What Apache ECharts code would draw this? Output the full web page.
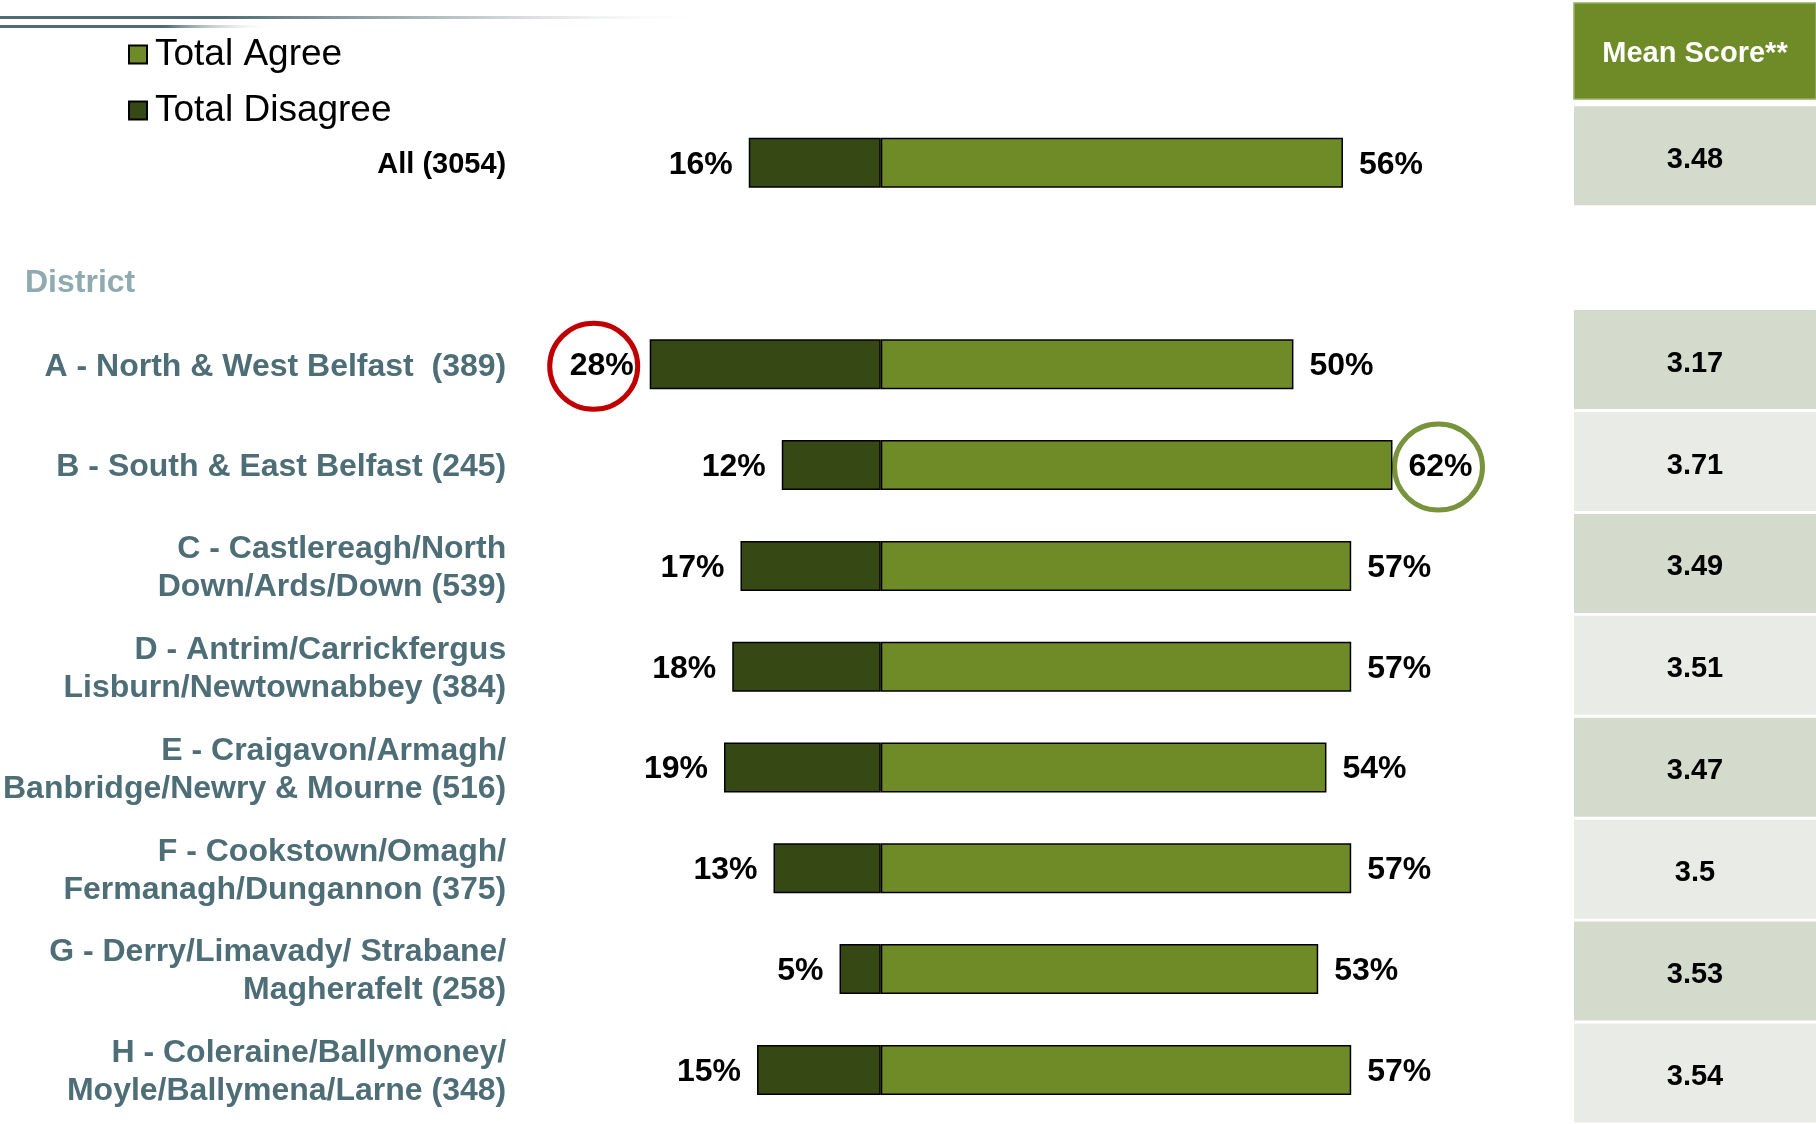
<!DOCTYPE html>
<html><head><meta charset="utf-8">
<script src="https://cdn.jsdelivr.net/npm/echarts@6/dist/echarts.min.js"></script>
<style>html,body{margin:0;padding:0;background:#fff}#c{width:1816px;height:1124px}</style>
</head><body><div id="c"></div>
<script>
// ---- data ----
const categories = [
  'All (3054)',
  '',
  'A - North & West Belfast  (389)',
  'B - South & East Belfast (245)',
  'C - Castlereagh/North\nDown/Ards/Down (539)',
  'D - Antrim/Carrickfergus\nLisburn/Newtownabbey (384)',
  'E - Craigavon/Armagh/\nBanbridge/Newry & Mourne (516)',
  'F - Cookstown/Omagh/\nFermanagh/Dungannon (375)',
  'G - Derry/Limavady/ Strabane/\nMagherafelt (258)',
  'H - Coleraine/Ballymoney/\nMoyle/Ballymena/Larne (348)'
];
const totalDisagree = [16, null, 28, 12, 17, 18, 19, 13, 5, 15];
const totalAgree    = [56, null, 50, 62, 57, 57, 54, 57, 53, 57];
const meanScores = ['3.48', null, '3.17', '3.71', '3.49', '3.51', '3.47', '3.5', '3.53', '3.54'];
const sectionTitle = 'District';
const meanHeader = 'Mean Score**';
const seriesNames = ['Total Agree', 'Total Disagree'];
const lowHighlight = 2;   // row whose disagree share is circled
const highHighlight = 3;  // row whose agree share is circled

// ---- chart ----
const FONT = '"Liberation Sans", Arial, sans-serif';
const chart = echarts.init(document.getElementById('c'), null, {renderer: 'canvas'});
const barLabel = {fontSize: 32, fontWeight: 'bold', color: '#000', fontFamily: FONT, distance: 16, offset: [0, 2]};

chart.setOption({
  animation: false,
  textStyle: {fontFamily: FONT},
  legend: {
    data: seriesNames,
    orient: 'vertical',
    icon: 'rect',
    left: 123, top: 29,
    itemWidth: 18, itemHeight: 18, itemGap: 15,
    textStyle: {fontSize: 37, color: '#000', lineHeight: 41, padding: [0, 0, 0, 3]}
  },
  grid: [
    {left: 632, width: 826.5, top: 112.3, height: 1008},
    {left: 1574, width: 242, top: 104.8, height: 1024}
  ],
  xAxis: [
    {gridIndex: 0, type: 'value', min: -30, max: 70, show: false, splitLine: {show: false}},
    {gridIndex: 1, type: 'value', min: 0, max: 1, show: false, splitLine: {show: false}}
  ],
  yAxis: [
    {
      gridIndex: 0, type: 'category', data: categories, inverse: true,
      axisLine: {show: false}, axisTick: {show: false},
      axisLabel: {
        interval: 0, margin: 127, fontSize: 32, fontWeight: 'bold', color: '#4E6E77', lineHeight: 38,
        padding: [5, 0, 0, 0],
        formatter: (v, i) => i === 0 ? '{all|' + v + '}' : v,
        rich: {all: {fontSize: 29, fontWeight: 'bold', color: '#000'}}
      }
    },
    {gridIndex: 1, type: 'category', data: categories, inverse: true, show: false}
  ],
  series: [
    {
      name: 'Total Disagree', type: 'bar', stack: 'share', xAxisIndex: 0, yAxisIndex: 0,
      barWidth: 50,
      data: totalDisagree.map(v => v == null ? null : -v),
      itemStyle: {color: '#364813', borderColor: '#000', borderWidth: 1.5},
      label: Object.assign({show: true, position: 'left', formatter: p => Math.abs(p.value) + '%'}, barLabel)
    },
    {
      name: 'Total Agree', type: 'bar', stack: 'share', xAxisIndex: 0, yAxisIndex: 0,
      barWidth: 50,
      data: totalAgree,
      itemStyle: {color: '#6E8B27', borderColor: '#000', borderWidth: 1.5},
      label: Object.assign({show: true, position: 'right', formatter: p => p.value + '%'}, barLabel)
    },
    {
      name: 'Mean', type: 'bar', xAxisIndex: 1, yAxisIndex: 1, barWidth: 99,
      data: meanScores.map((v, i) => v == null ? null : {
        value: 1,
        itemStyle: {color: i % 2 === 0 ? '#D4DBCD' : '#E9EBE6'}
      }),
      label: {
        show: true, position: 'inside', fontSize: 29, fontWeight: 'bold', color: '#000', offset: [0, 4],
        formatter: p => meanScores[p.dataIndex]
      },
      silent: true
    }
  ]
});

const lowPt = chart.convertToPixel({seriesIndex: 0}, [-totalDisagree[lowHighlight], lowHighlight]);
const highPt = chart.convertToPixel({seriesIndex: 1}, [totalAgree[highHighlight], highHighlight]);
const sectionPt = chart.convertToPixel({seriesIndex: 0}, [0, 1]);

const LINE = '#4F6B73';
const grad1 = new echarts.graphic.LinearGradient(0, 0, 1, 0, [
  {offset: 0, color: LINE}, {offset: 0.3, color: LINE}, {offset: 0.68, color: '#C9D1D3'}, {offset: 1, color: 'rgba(255,255,255,0)'}
]);
const grad2 = new echarts.graphic.LinearGradient(0, 0, 1, 0, [
  {offset: 0, color: LINE}, {offset: 0.6, color: LINE}, {offset: 1, color: 'rgba(255,255,255,0)'}
]);

chart.setOption({
  graphic: [
    {type: 'rect', shape: {x: 0, y: 16, width: 720, height: 3}, style: {fill: grad1}, silent: true},
    {type: 'rect', shape: {x: 0, y: 25, width: 275, height: 3}, style: {fill: grad2}, silent: true},
    {type: 'rect', shape: {x: 1574, y: 3, width: 242, height: 96}, style: {fill: '#6E8B28', stroke: '#97AD62', lineWidth: 1.5}, silent: true},
    {type: 'text', x: 1695, y: 54, style: {text: meanHeader, fill: '#fff', font: 'bold 29px ' + FONT, textAlign: 'center', textVerticalAlign: 'middle'}, silent: true},
    {type: 'text', x: 25, y: sectionPt[1] + 20, style: {text: sectionTitle, fill: '#8FAAB0', font: 'bold 32px ' + FONT, textAlign: 'left', textVerticalAlign: 'middle'}, silent: true},
    {type: 'ellipse', shape: {cx: lowPt[0] - 56, cy: lowPt[1] + 2, rx: 44, ry: 43}, style: {fill: 'none', stroke: '#C00000', lineWidth: 5}, silent: true},
    {type: 'ellipse', shape: {cx: highPt[0] + 46, cy: highPt[1] + 2, rx: 44, ry: 43}, style: {fill: 'none', stroke: '#77933C', lineWidth: 5}, silent: true}
  ]
});
</script>
</body></html>
